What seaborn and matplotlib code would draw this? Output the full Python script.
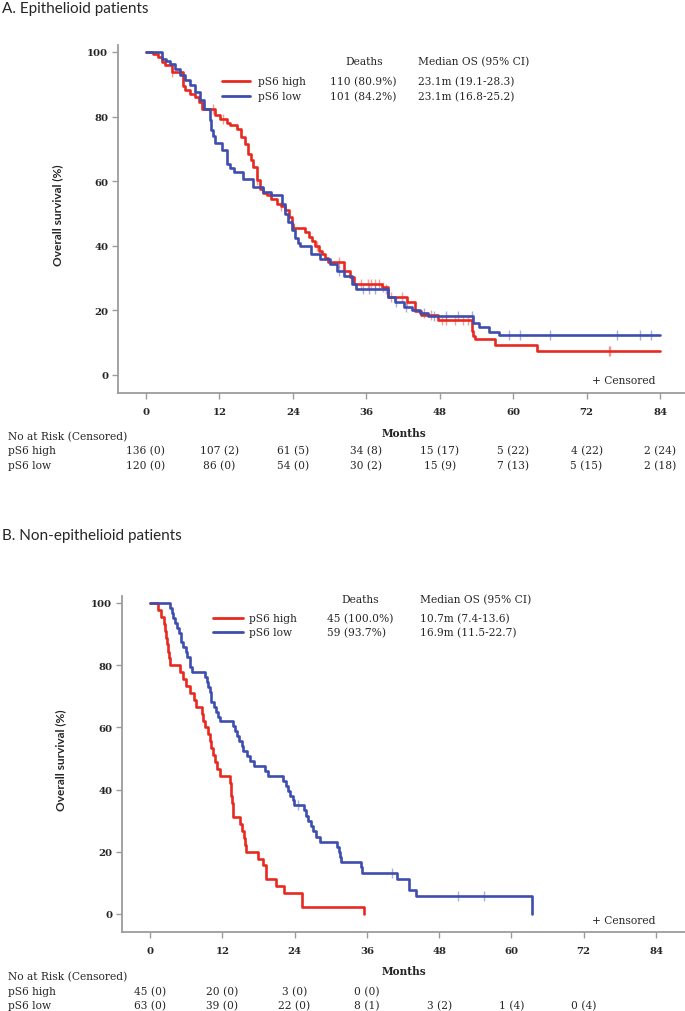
import numpy as np
import pandas as pd
import matplotlib
matplotlib.use("Agg")
import matplotlib.pyplot as plt
import seaborn as sns
from matplotlib.lines import Line2D

# ---------------- data ----------------
groups = ["pS6 high", "pS6 low"]

# A. Epithelioid: Kaplan-Meier step points (months, % surviving)
epi_high_t = [0, 1.2, 2.0, 2.6, 3.1, 4.2, 6.1, 6.3, 7.2, 8.0, 8.6, 9.1, 11.3, 12.1, 13.2, 13.8, 14.8, 15.6, 16.2, 16.7,
              17.1, 17.5, 18.1, 18.6, 19.2, 19.7, 20.5, 21.4, 22.0, 22.7, 23.3, 23.8, 24.1, 26.0, 26.6, 27.1, 27.7, 28.2,
              28.7, 29.2, 29.8, 32.3, 33.3, 34.0, 38.5, 39.6, 42.6, 43.9, 45.0, 47.8, 53.2, 53.5, 53.8, 57.1, 63.9, 84]
epi_high_s = [100, 99.3, 98.5, 96.9, 95.9, 93.8, 89.5, 88.1, 87.1, 86.1, 84.5, 82.5, 80.4, 79.4, 78.0, 77.3, 76.3, 73.7,
              71.6, 68.5, 66.5, 64.4, 60.3, 57.7, 56.5, 55.6, 54.5, 53.0, 52.2, 51.0, 49.0, 46.9, 45.4, 44.2, 42.8, 41.6,
              40.0, 38.5, 37.4, 36.2, 34.9, 32.3, 30.2, 28.2, 27.2, 24.0, 22.5, 19.9, 18.5, 17.1, 13.7, 12.2, 11.1, 9.4,
              7.5, 7.5]
epi_high_cens = [4.3, 10.9, 12.6, 18.1, 22.0, 27.9, 31.5, 35.2, 36.3, 36.8, 37.4, 38.0, 38.8, 40.0, 41.8, 42.6, 46.5,
                 48.3, 49.1, 50.5, 51.8, 52.7, 75.6, 75.9]

epi_low_t = [0, 2.6, 3.3, 3.9, 4.7, 5.5, 6.4, 7.2, 8.0, 8.8, 9.4, 10.5, 10.7, 11.0, 11.3, 12.4, 13.2, 13.8, 14.3, 15.9,
             17.5, 19.2, 20.5, 22.2, 22.7, 23.2, 23.8, 24.3, 24.8, 25.2, 27.0, 28.4, 30.1, 31.2, 32.3, 33.6, 34.4, 39.6,
             40.7, 42.1, 43.4, 44.8, 46.1, 53.5, 54.5, 56.0, 57.7, 84]
epi_low_s = [100, 97.9, 97.1, 96.2, 94.8, 93.0, 91.2, 89.7, 87.6, 85.0, 82.5, 78.8, 75.7, 74.0, 71.7, 69.6, 65.4, 64.0,
             62.8, 60.8, 58.2, 56.7, 55.6, 53.0, 50.0, 47.5, 45.0, 42.5, 40.8, 40.0, 37.5, 35.9, 34.4, 32.3, 30.5, 28.2,
             26.6, 24.0, 22.5, 21.2, 20.2, 19.1, 18.4, 16.0, 15.0, 13.4, 12.4, 12.4]
epi_low_cens = [31.5, 35.5, 36.5, 37.5, 39.3, 40.8, 42.5, 45.5, 47.0, 49.0, 51.0, 53.2, 59.4, 61.2, 66.1, 77.0, 80.8,
                82.6]

# B. Non-epithelioid
non_high_t = [0, 1.3, 1.9, 2.3, 2.5, 2.7, 2.9, 3.0, 3.1, 3.3, 4.9, 5.5, 6.0, 6.6, 7.3, 7.6, 8.6, 8.8, 9.1, 9.7,
              10.0, 10.2, 10.5, 10.8, 11.2, 11.6, 13.2, 13.4, 13.5, 13.6, 13.7, 13.8, 15.0, 15.3, 15.6, 15.8, 15.9,
              18.0, 18.8, 19.3, 20.9, 22.3, 25.3, 35.5]
non_high_s = [100, 97.8, 95.6, 93.3, 91.1, 88.9, 86.7, 84.4, 82.2, 80.0, 77.8, 75.6, 73.3, 71.1, 68.9, 66.7, 64.4,
              62.2, 60.0, 57.8, 55.6, 53.3, 51.1, 48.9, 46.7, 44.4, 42.2, 40.0, 37.8, 35.6, 33.3, 31.1, 28.9, 26.7,
              24.4, 22.2, 20.0, 17.8, 15.6, 11.1, 8.9, 6.7, 2.2, 0]
non_high_cens = []

non_low_t = [0, 3.3, 3.6, 3.9, 4.2, 4.5, 4.8, 5.2, 5.5, 5.9, 6.2, 6.6, 6.9, 9.1, 9.4, 9.7, 10.0, 10.2, 10.6, 11.0,
             11.3, 11.6, 13.8, 14.1, 14.5, 14.8, 15.2, 15.5, 16.1, 16.6, 17.2, 19.1, 19.6, 22.1, 22.5, 22.9, 23.3,
             23.8, 23.9, 25.5, 25.9, 26.3, 26.7, 27.1, 27.6, 28.2, 31.1, 31.3, 31.5, 31.7, 35.0, 35.2, 41.0, 43.0,
             44.1, 63.4]
non_low_s = [100, 98.4, 96.8, 95.2, 93.7, 92.1, 90.5, 87.3, 85.7, 84.1, 82.5, 79.4, 77.8, 76.2, 74.6, 73.0, 71.4,
             68.3, 66.7, 65.1, 63.5, 61.9, 60.3, 58.7, 57.1, 55.6, 54.0, 52.4, 50.8, 49.2, 47.6, 46.0, 44.4, 42.9,
             41.3, 39.7, 38.1, 36.5, 34.9, 33.3, 31.6, 29.9, 28.3, 26.6, 24.9, 23.3, 21.6, 20.0, 18.3, 16.6, 15.0,
             13.3, 11.4, 7.6, 5.7, 0]
non_low_cens = [24.6, 40.2, 51.2, 55.4]

epi_deaths = ["110 (80.9%)", "101 (84.2%)"]
epi_median = ["23.1m (19.1-28.3)", "23.1m (16.8-25.2)"]
non_deaths = ["45 (100.0%)", "59 (93.7%)"]
non_median = ["10.7m (7.4-13.6)", "16.9m (11.5-22.7)"]

risk_months = [0, 12, 24, 36, 48, 60, 72, 84]
epi_risk_high = ["136 (0)", "107 (2)", "61 (5)", "34 (8)", "15 (17)", "5 (22)", "4 (22)", "2 (24)"]
epi_risk_low = ["120 (0)", "86 (0)", "54 (0)", "30 (2)", "15 (9)", "7 (13)", "5 (15)", "2 (18)"]
non_risk_high = ["45 (0)", "20 (0)", "3 (0)", "0 (0)"]
non_risk_low = ["63 (0)", "39 (0)", "22 (0)", "8 (1)", "3 (2)", "1 (4)", "0 (4)"]
y_ticks = [0, 20, 40, 60, 80, 100]

# ---------------- style ----------------
sns.set_theme(style="white")
plt.rcParams['font.family'] = ['DejaVu Serif']

W, H = 685, 1012
fig = plt.figure(figsize=(W / 100, H / 100), dpi=100)

RED = '#E8291F'
BLUE = '#3E4EAE'
GRAY = '#9C9C9C'
SERIF = 'DejaVu Serif'
SANS = 'Lato'
FS = 7.7
FSB = 7.3


def fx(px):
    return px / W


def fy(py):
    return 1 - py / H


def step_at(ts, ss, t):
    i = np.searchsorted(np.asarray(ts), t, side='right') - 1
    return ss[i]


def panel(title, title_y, rect, xlim, ylim, curves, legend, risk, risk_y, tick_x, ylab_xy, cens_y,
          months_y):
    left, top, right, bottom = rect
    ax = fig.add_axes([fx(left), fy(bottom), (right - left) / W, (bottom - top) / H])
    for ts, ss, cens, col in curves:
        df = pd.DataFrame({'t': ts, 's': ss})
        sns.lineplot(data=df, x='t', y='s', drawstyle='steps-post', estimator=None, sort=False,
                     color=col, lw=1.9, ax=ax)
        if cens:
            cy = [step_at(ts, ss, c) for c in cens]
            sns.scatterplot(x=cens, y=cy, marker='|', s=55, color=col, alpha=0.45,
                            linewidth=1.0, ax=ax)
    ax.set_xlim(*xlim)
    ax.set_ylim(*ylim)
    ax.set_xticks(risk_months)
    ax.set_yticks(y_ticks)
    ax.set_xticklabels([str(m) for m in risk_months], fontsize=FSB, fontweight='bold', family=SERIF)
    ax.set_yticklabels([str(v) for v in y_ticks], fontsize=FSB, fontweight='bold', family=SERIF)
    ax.tick_params(axis='x', length=4, width=1, color=GRAY, pad=6, bottom=True)
    ax.tick_params(axis='y', length=4, width=1, color=GRAY, pad=3, left=True)
    ax.set_xlabel('')
    ax.set_ylabel('')
    sns.despine(ax=ax)
    for sp in ('left', 'bottom'):
        ax.spines[sp].set_color(GRAY)
        ax.spines[sp].set_linewidth(1.3)

    fig.text(fx(2), fy(title_y), title, family=SANS, fontsize=11, va='center', ha='left')
    fig.text(fx(ylab_xy[0]), fy(ylab_xy[1]), 'Overall survival (%)', family=SANS, fontweight='bold',
             fontsize=8.6, rotation=90, va='center', ha='center')

    # legend block
    (lx0, lx1, lab_x, dx, mx, hy, ry1, ry2, deaths, medians, dhead_x) = legend
    fig.text(fx(dhead_x), fy(hy), 'Deaths', fontsize=FS, ha='center', va='center', family=SERIF)
    fig.text(fx(mx), fy(hy), 'Median OS (95% CI)', fontsize=FS, ha='left', va='center', family=SERIF)
    for gy, col, g, d, m in zip((ry1, ry2), (RED, BLUE), groups, deaths, medians):
        fig.add_artist(Line2D([fx(lx0), fx(lx1)], [fy(gy), fy(gy)], color=col, lw=2.0))
        fig.text(fx(lab_x), fy(gy), g, fontsize=FS, ha='left', va='center', family=SERIF)
        fig.text(fx(dx), fy(gy), d, fontsize=FS, ha='left', va='center', family=SERIF)
        fig.text(fx(mx), fy(gy), m, fontsize=FS, ha='left', va='center', family=SERIF)

    fig.text(fx(656), fy(cens_y), '+ Censored', fontsize=FS, ha='right', va='center', family=SERIF)
    fig.text(fx(404), fy(months_y), 'Months', fontsize=FSB + 0.3, fontweight='bold', ha='center',
             va='center', family=SERIF)

    ny, hy1, hy2 = risk_y
    fig.text(fx(8), fy(ny), 'No at Risk (Censored)', fontsize=FS, ha='left', va='center', family=SERIF)
    for gy, g, row in zip((hy1, hy2), groups, risk):
        fig.text(fx(8), fy(gy), g, fontsize=FS, ha='left', va='center', family=SERIF)
        for m, lab in zip(risk_months, row):
            fig.text(fx(tick_x(m)), fy(gy), lab, fontsize=FS, ha='center', va='center', family=SERIF)
    return ax


# Panel A geometry (pixels)
a_x0, a_pxm = 146, (660 - 146) / 84.0
a_y0, a_pxs = 376, (376 - 53) / 100.0
a_rect = (118, 46, 685, 394)
a_xlim = ((a_rect[0] - a_x0) / a_pxm, (a_rect[2] - a_x0) / a_pxm)
a_ylim = ((a_y0 - a_rect[3]) / a_pxs, (a_y0 - a_rect[1]) / a_pxs)
panel("A. Epithelioid patients", 9, a_rect, a_xlim, a_ylim,
      [(epi_high_t, epi_high_s, epi_high_cens, RED), (epi_low_t, epi_low_s, epi_low_cens, BLUE)],
      (222, 250, 258, 330, 418, 62, 82, 97, epi_deaths, epi_median, 364),
      [epi_risk_high, epi_risk_low], (437, 451, 466),
      lambda m: a_x0 + m * a_pxm, (58, 215), 381, 434)

# Panel B geometry (pixels)
b_x0, b_pxm = 150, (656 - 150) / 84.0
b_y0, b_pxs = 915, (915 - 604) / 100.0
b_rect = (122, 597, 685, 933)
b_xlim = ((b_rect[0] - b_x0) / b_pxm, (b_rect[2] - b_x0) / b_pxm)
b_ylim = ((b_y0 - b_rect[3]) / b_pxs, (b_y0 - b_rect[1]) / b_pxs)
panel("B. Non-epithelioid patients", 536, b_rect, b_xlim, b_ylim,
      [(non_high_t, non_high_s, non_high_cens, RED), (non_low_t, non_low_s, non_low_cens, BLUE)],
      (213, 243, 249, 327, 420, 600, 619, 633, non_deaths, non_median, 360),
      [non_risk_high, non_risk_low], (977, 992, 1006),
      lambda m: b_x0 + m * b_pxm, (61, 760), 921, 972)

fig.savefig("out.png", dpi=100)
